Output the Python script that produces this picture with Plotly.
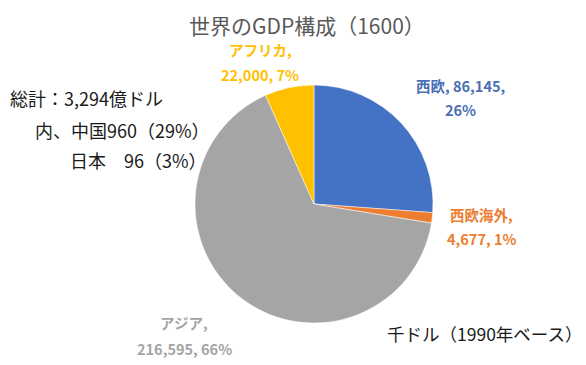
import plotly.graph_objects as go

categories = ["西欧", "西欧海外", "アジア", "アフリカ"]
values = [86145, 4677, 216595, 22000]
percents = ["26%", "1%", "66%", "7%"]
colors = ["#4472C4", "#ED7D31", "#A5A5A5", "#FFC000"]
label_colors = ["#4A6FB5", "#ED7D31", "#A5A5A5", "#FFC000"]
title_text = "世界のGDP構成（1600）"
notes = ["総計：3,294億ドル", "内、中国960（29%）", "日本　96（3%）"]
unit_text = "千ドル（1990年ベース）"

W, H = 586, 365
OFF = 8  # page body margin in the browser
FONT = "Noto Sans CJK JP"


def fx(px):
    return (px - OFF) / W


def fy(py):
    return 1 - (py - OFF) / H


fig = go.Figure(go.Pie(
    labels=categories,
    values=values,
    sort=False,
    direction="clockwise",
    rotation=0,
    marker=dict(colors=colors, line=dict(color="white", width=0.5)),
    textinfo="none",
    hoverinfo="label+value+percent",
    showlegend=False,
    domain=dict(x=[fx(195), fx(433)], y=[fy(323), fy(85)]),
))


def fmt(v):
    return f"{v:,}"


label_specs = [
    (460, [(85, f"{categories[0]}, {fmt(values[0])},"), (110, percents[0])]),
    (481, [(214, f"{categories[1]},"), (238, f"{fmt(values[1])}, {percents[1]}")]),
    (184, [(322, f"{categories[2]},"), (348, f"{fmt(values[2])}, {percents[2]}")]),
    (260, [(50, f"{categories[3]},"), (74, f"{fmt(values[3])}, {percents[3]}")]),
]

annotations = []
for i, (px, lines) in enumerate(label_specs):
    for py, txt in lines:
        annotations.append(dict(
            x=fx(px), y=fy(py), xref="paper", yref="paper",
            text=f"<b>{txt}</b>", showarrow=False,
            xanchor="center", yanchor="middle",
            font=dict(family=FONT, size=14.5, color=label_colors[i]),
        ))

annotations.append(dict(x=fx(307), y=fy(25), xref="paper", yref="paper",
                        text=title_text, showarrow=False, xanchor="center", yanchor="middle",
                        font=dict(family=FONT, size=21, color="#595959")))

note_pos = [(8, 98), (33, 130), (68, 160)]
for (px, py), t in zip(note_pos, notes):
    annotations.append(dict(x=fx(px), y=fy(py), xref="paper", yref="paper",
                            text=t, showarrow=False, xanchor="left", yanchor="middle",
                            font=dict(family=FONT, size=18, color="#1a1a1a")))

annotations.append(dict(x=fx(385), y=fy(333), xref="paper", yref="paper",
                        text=unit_text, showarrow=False, xanchor="left", yanchor="middle",
                        font=dict(family=FONT, size=17.5, color="#1a1a1a")))

fig.update_layout(
    width=W, height=H,
    margin=dict(l=0, r=0, t=0, b=0),
    paper_bgcolor="white", plot_bgcolor="white",
    annotations=annotations,
)

fig.write_html("out.html")
